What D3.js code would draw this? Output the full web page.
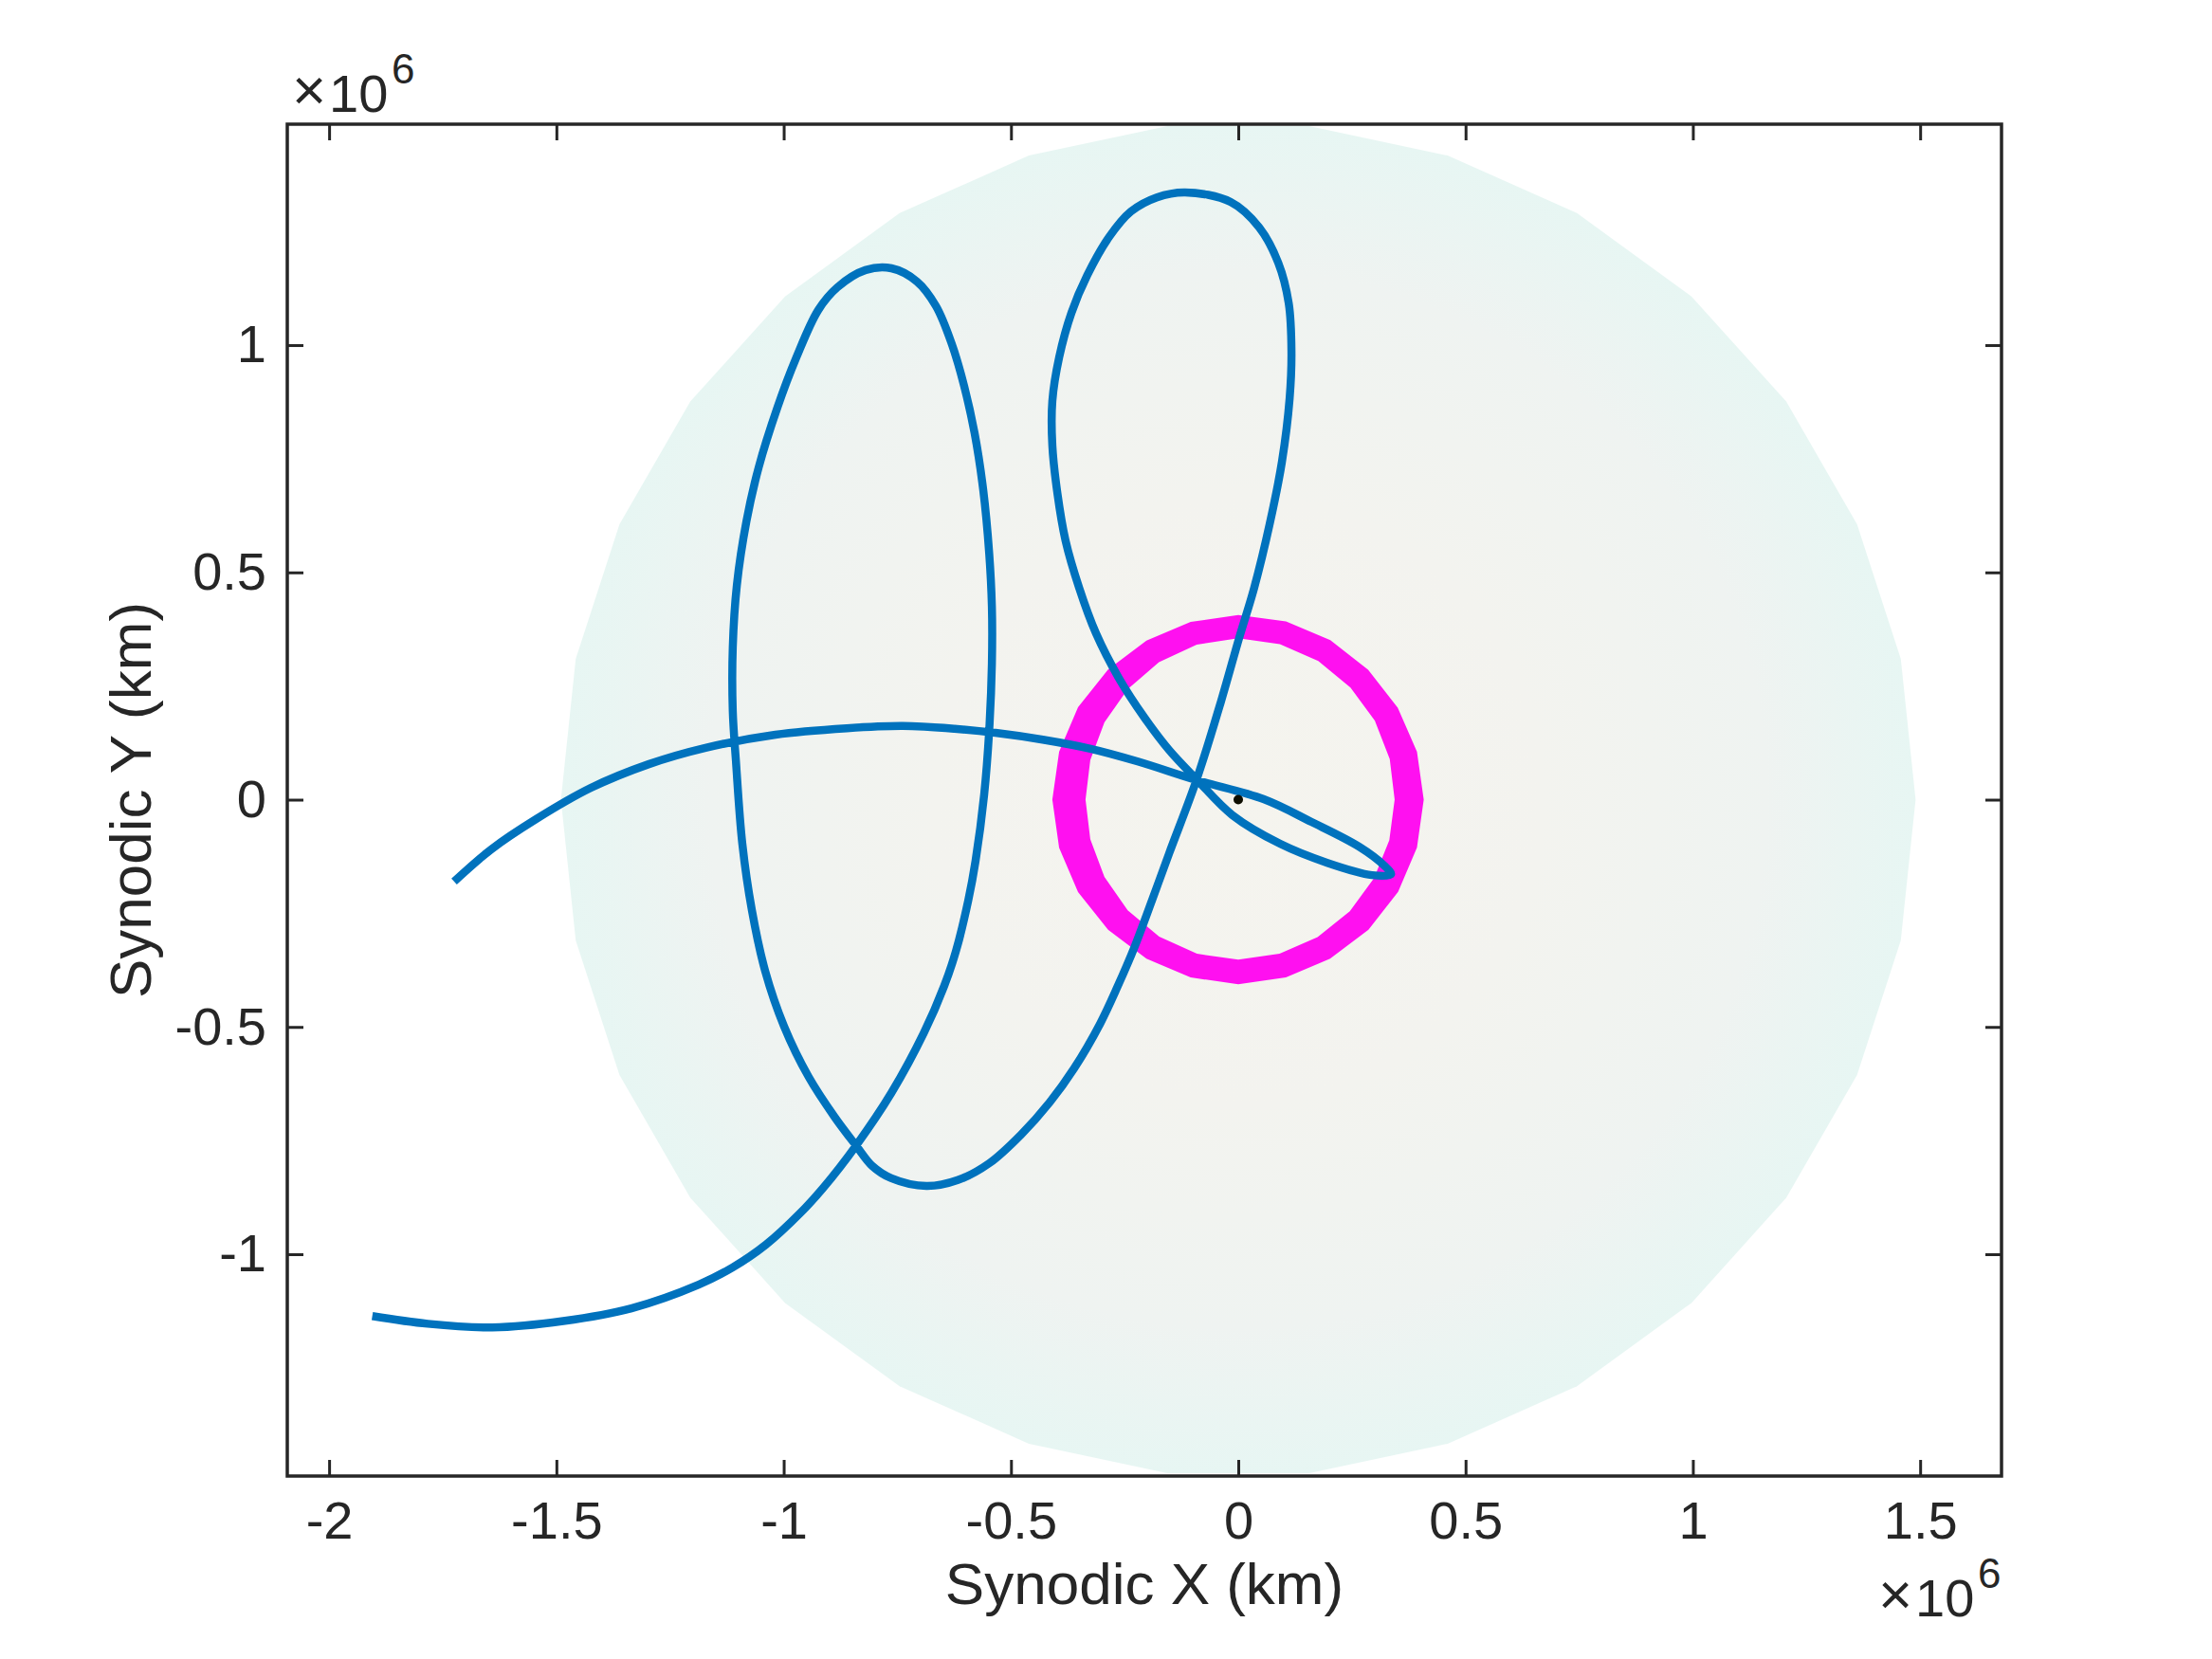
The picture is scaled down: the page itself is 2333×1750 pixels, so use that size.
<!DOCTYPE html>
<html>
<head>
<meta charset="utf-8">
<title>Synodic trajectory</title>
<script src="https://cdn.jsdelivr.net/npm/d3@7"></script>
<style>
  body { margin: 0; background: #fff; }
  svg { display: block; background: #fff; }
  .axis path { display: none; }
  .axis line { stroke: #262626; stroke-width: 3; }
  .axis text { font-family: "Liberation Sans", Arial, Helvetica, sans-serif; font-size: 56px; fill: #262626; }
  .label { font-family: "Liberation Sans", Arial, Helvetica, sans-serif; font-size: 62px; fill: #262626; }
  .expo { font-family: "Liberation Sans", Arial, Helvetica, sans-serif; fill: #262626; }
</style>
</head>
<body>
<svg id="chart"></svg>
<script>

/*
		 GLOBAL LAYOUT CONSTANTS
*/
var width = 2333;
var height = 1750;
var plot = {left: 303, right: 2111, top: 131, bottom: 1557};


/*
		 DATA  (all distances in units of 10^6 km)
*/
var xLimits = [-2.092, 1.679];
var yLimits = [-1.488, 1.486];
var xTicks = [-2, -1.5, -1, -0.5, 0, 0.5, 1, 1.5];
var yTicks = [-1, -0.5, 0, 0.5, 1];

// spacecraft trajectory, synodic frame
var trajX = [-1.905,-1.783,-1.641,-1.485,-1.335,-1.187,-1.112,-1.039,-0.964,-0.913,
             -0.840,-0.763,-0.692,-0.647,-0.621,-0.594,-0.578,-0.559,-0.548,-0.542,
             -0.542,-0.548,-0.561,-0.580,-0.603,-0.630,-0.665,-0.707,-0.763,-0.820,
             -0.882,-0.924,-0.972,-1.014,-1.055,-1.082,-1.103,-1.112,-1.112,-1.105,
             -1.091,-1.070,-1.041,-0.999,-0.945,-0.888,-0.840,-0.805,-0.763,-0.686,
             -0.617,-0.548,-0.478,-0.415,-0.361,-0.304,-0.265,-0.229,-0.190,-0.152,
             -0.092,-0.038,0.002,0.035,0.069,0.096,0.113,0.117,0.111,0.088,
             0.046,-0.017,-0.117,-0.179,-0.236,-0.284,-0.332,-0.367,-0.394,-0.409,
             -0.409,-0.398,-0.380,-0.350,-0.313,-0.263,-0.206,-0.152,-0.092,-0.013,
             0.092,0.196,0.294,0.336,0.321,0.265,0.161,0.056,-0.092,-0.221,
             -0.325,-0.430,-0.534,-0.624,-0.738,-0.861,-1.018,-1.172,-1.297,-1.424,
             -1.545,-1.643,-1.725];
var trajY = [-1.136,-1.153,-1.161,-1.147,-1.119,-1.067,-1.029,-0.979,-0.910,-0.854,
             -0.760,-0.645,-0.514,-0.410,-0.333,-0.222,-0.135,0.011,0.151,0.299,
             0.424,0.543,0.681,0.806,0.910,1.002,1.086,1.140,1.169,1.165,
             1.127,1.077,0.973,0.862,0.731,0.612,0.472,0.335,0.195,0.084,
             -0.097,-0.243,-0.376,-0.499,-0.610,-0.698,-0.762,-0.806,-0.833,-0.850,
             -0.837,-0.800,-0.737,-0.666,-0.591,-0.493,-0.410,-0.326,-0.222,-0.118,
             0.043,0.216,0.356,0.466,0.606,0.743,0.883,0.987,1.092,1.181,
             1.259,1.315,1.336,1.325,1.294,1.238,1.154,1.071,0.973,0.877,
             0.779,0.675,0.570,0.466,0.366,0.268,0.180,0.109,0.045,-0.034,
             -0.097,-0.139,-0.166,-0.164,-0.145,-0.103,-0.049,0.001,0.043,0.084,
             0.112,0.132,0.147,0.156,0.162,0.157,0.143,0.114,0.078,0.026,
             -0.043,-0.109,-0.180];

// moon orbit band (angle in deg, counter-clockwise from +X), min / max radius
var moonAngle = [0,15,30,45,60,75,90,105,120,135,150,165,180,195,210,225,240,255,270,285,300,315,330,345];
var moonOuter = [0.408,0.407,0.405,0.404,0.405,0.406,0.406,0.405,0.404,0.405,0.407,0.408,
                 0.409,0.408,0.407,0.405,0.404,0.405,0.406,0.405,0.404,0.405,0.406,0.407];
var moonInner = [0.344,0.345,0.347,0.349,0.352,0.354,0.355,0.353,0.349,0.344,0.340,0.337,
                 0.336,0.337,0.340,0.344,0.348,0.351,0.352,0.351,0.349,0.347,0.345,0.344];

// sphere of influence drawn behind everything
var sphereRadius = 1.49;
var sphereFacets = 30;

var earthX = 0;
var earthY = 0;


/*
		 SCALES
*/
var x = d3.scaleLinear().domain(xLimits).range([plot.left, plot.right]);
var y = d3.scaleLinear().domain(yLimits).range([plot.bottom, plot.top]);
var px = function(r) { return x(r) - x(0); };   // radius in pixels (axis equal)
var fmt = function(d) { return String(d); };     // keep plain hyphen minus

var svg = d3.select("#chart")
    .attr("width", width)
    .attr("height", height);

var defs = svg.append("defs");

defs.append("clipPath")
    .attr("id", "plotclip")
  .append("rect")
    .attr("x", plot.left)
    .attr("y", plot.top)
    .attr("width", plot.right - plot.left)
    .attr("height", plot.bottom - plot.top);

// gradient lives in the (translated) user space of the sphere path -> centre 0,0
var grad = defs.append("radialGradient")
    .attr("id", "spheregrad")
    .attr("gradientUnits", "userSpaceOnUse")
    .attr("cx", 0)
    .attr("cy", 0)
    .attr("r", px(sphereRadius));
grad.append("stop").attr("offset", "0%").attr("stop-color", "#f5f4ee");
grad.append("stop").attr("offset", "45%").attr("stop-color", "#f3f3ef");
grad.append("stop").attr("offset", "78%").attr("stop-color", "#eff3f1");
grad.append("stop").attr("offset", "100%").attr("stop-color", "#e7f6f3");

var g = svg.append("g").attr("clip-path", "url(#plotclip)");


/*
		 SPHERE
*/
var facetAngles = d3.range(sphereFacets).map(function(i) { return i * 360 / sphereFacets; });
var sphereLine = d3.lineRadial()
    .angle(function(a) { return (90 - a) * Math.PI / 180; })
    .radius(px(sphereRadius))
    .curve(d3.curveLinearClosed);

g.append("path")
    .attr("transform", "translate(" + x(earthX) + "," + y(earthY) + ")")
    .attr("d", sphereLine(facetAngles))
    .attr("fill", "url(#spheregrad)");


/*
		 MOON ORBIT
*/
var moonArea = d3.areaRadial()
    .angle(function(d, i) { return (90 - moonAngle[i]) * Math.PI / 180; })
    .innerRadius(function(d, i) { return px(moonInner[i]); })
    .outerRadius(function(d, i) { return px(moonOuter[i]); })
    .curve(d3.curveLinearClosed);

g.append("path")
    .attr("transform", "translate(" + x(earthX) + "," + y(earthY) + ")")
    .attr("d", moonArea(moonAngle))
    .attr("fill", "#ff10f0");


/*
		 TRAJECTORY
*/
var traj = trajX.map(function(v, i) { return [v, trajY[i]]; });
var trajLine = d3.line()
    .x(function(d) { return x(d[0]); })
    .y(function(d) { return y(d[1]); })
    .curve(d3.curveCatmullRom.alpha(0.5));

g.append("path")
    .attr("d", trajLine(traj))
    .attr("fill", "none")
    .attr("stroke", "#0072bd")
    .attr("stroke-width", 8.5)
    .attr("stroke-linejoin", "round");

g.append("circle")
    .attr("cx", x(earthX))
    .attr("cy", y(earthY))
    .attr("r", 5)
    .attr("fill", "#0d0d00");


/*
		 AXES
*/
svg.append("g")
    .attr("class", "axis")
    .attr("transform", "translate(0," + plot.bottom + ")")
    .call(d3.axisBottom(x).tickValues(xTicks).tickFormat(fmt)
        .tickSizeInner(-17).tickSizeOuter(0).tickPadding(26));

svg.append("g")
    .attr("class", "axis")
    .attr("transform", "translate(0," + plot.top + ")")
    .call(d3.axisTop(x).tickValues(xTicks).tickFormat("")
        .tickSizeInner(-17).tickSizeOuter(0));

svg.append("g")
    .attr("class", "axis")
    .attr("transform", "translate(" + plot.left + ",0)")
    .call(d3.axisLeft(y).tickValues(yTicks).tickFormat(fmt)
        .tickSizeInner(-17).tickSizeOuter(0).tickPadding(22));

svg.append("g")
    .attr("class", "axis")
    .attr("transform", "translate(" + plot.right + ",0)")
    .call(d3.axisRight(y).tickValues(yTicks).tickFormat("")
        .tickSizeInner(-17).tickSizeOuter(0));

svg.append("rect")
    .attr("x", plot.left)
    .attr("y", plot.top)
    .attr("width", plot.right - plot.left)
    .attr("height", plot.bottom - plot.top)
    .attr("fill", "none")
    .attr("stroke", "#262626")
    .attr("stroke-width", 3.5);


/*
		 LABELS
*/
svg.append("text")
    .attr("class", "label")
    .attr("x", (plot.left + plot.right) / 2)
    .attr("y", 1692)
    .attr("text-anchor", "middle")
    .text("Synodic X (km)");

svg.append("text")
    .attr("class", "label")
    .attr("transform", "translate(159," + (plot.top + plot.bottom) / 2 + ") rotate(-90)")
    .attr("text-anchor", "middle")
    .text("Synodic Y (km)");

// "x10^6" multiplier, left edge of the times sign at x0
function drawExponent(x0, base) {
  var t = svg.append("text").attr("class", "expo");
  t.append("tspan").attr("x", x0 - 3).attr("y", base - 2).style("font-size", "62px").text("\u00d7");
  t.append("tspan").attr("x", x0 + 36).attr("y", base).style("font-size", "56px").text("10");
  t.append("tspan").attr("x", x0 + 102).attr("y", base - 30).style("font-size", "44px").text("6");
}

drawExponent(311, 118);
drawExponent(1984, 1705);

console.log('End of JS File');
</script>
</body>
</html>
